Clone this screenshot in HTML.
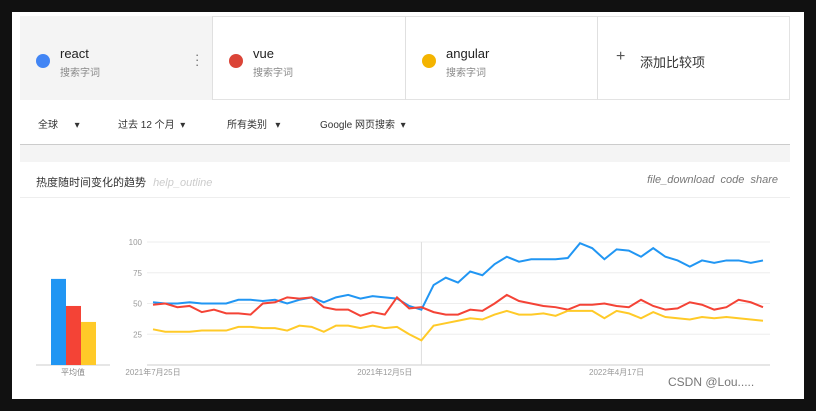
<!DOCTYPE html>
<html><head><meta charset="utf-8">
<style>
body{margin:0;width:816px;height:411px;background:#111;overflow:hidden;font-family:"Liberation Sans","Noto Sans CJK SC",sans-serif;}
#frame{position:absolute;left:12px;top:12px;width:792px;height:387px;background:#fff;}
.cell{position:absolute;top:4px;height:84px;border-right:1px solid #e0e0e0;}
.dot{position:absolute;left:16px;top:38px;width:14px;height:14px;border-radius:50%;}
.term{position:absolute;left:40px;top:30px;font-size:13px;color:#222;}
.sub{position:absolute;left:40px;top:48px;font-size:10px;color:#888;}
.filt{position:absolute;top:116px;font-size:10px;color:#333;}
</style></head><body>
<div id="frame">
 <div style="position:absolute;left:8px;top:4px;width:770px;height:84px;border:1px solid #e3e3e3;box-sizing:border-box;"></div>
 <div class="cell" style="left:8px;width:192px;background:#f4f4f4;">
  <div class="dot" style="background:#4285f4"></div><div class="term">react</div><div class="sub">搜索字词</div>
  <div style="position:absolute;left:175px;top:36px;font-size:13px;color:#666;line-height:5px;">·<br>·<br>·</div>
 </div>
 <div class="cell" style="left:201px;width:192px;">
  <div class="dot" style="background:#db4437"></div><div class="term">vue</div><div class="sub">搜索字词</div></div>
 <div class="cell" style="left:394px;width:191px;">
  <div class="dot" style="background:#f4b400"></div><div class="term">angular</div><div class="sub">搜索字词</div></div>
 <div class="cell" style="left:586px;width:190px;border:none;">
  <div style="position:absolute;left:18px;top:32px;font-size:16px;color:#555;">+</div>
  <div style="position:absolute;left:42px;top:36px;font-size:13px;color:#333;">添加比较项</div></div>
 <div class="filt" style="left:26px;top:104px;">全球 &nbsp; &nbsp; &nbsp;▾</div>
 <div class="filt" style="left:106px;top:104px;">过去 12 个月 &nbsp;▾</div>
 <div class="filt" style="left:215px;top:104px;">所有类别 &nbsp; ▾</div>
 <div class="filt" style="left:308px;top:104px;">Google 网页搜索 &nbsp;▾</div>
 <div style="position:absolute;left:8px;top:132px;width:770px;height:17px;background:#f4f4f4;border-top:1px solid #ccc;"></div>
 <div style="position:absolute;left:24px;top:162px;font-size:11px;color:#333;">热度随时间变化的趋势 <i style="color:#ccc;font-family:'Liberation Sans';margin-left:4px">help_outline</i></div>
 <div style="position:absolute;right:26px;top:162px;font-size:11px;color:#777;font-style:italic;"><span>file_download</span> &nbsp;<span>code</span> &nbsp;<span>share</span></div>
 <div style="position:absolute;left:8px;top:185px;width:770px;height:1px;background:#eee;"></div>
</div>
<svg id="chart" width="816" height="411" style="position:absolute;left:0;top:0"></svg>
<div style="position:absolute;left:668px;top:375px;font-size:12px;color:#777;">CSDN @Lou.....</div>
<script>
const react=[51,50,50,51,50,50,50,53,53,52,53,50,53,55,51,55,57,54,56,55,54,48,45,65,71,67,76,73,82,88,84,86,86,86,87,99,95,86,94,93,88,95,88,85,80,85,83,85,85,83,85];
const vue=[49,50,47,48,43,45,42,42,41,50,51,55,54,55,47,45,45,40,43,41,55,46,47,43,41,41,45,44,50,57,52,50,48,47,45,49,49,50,48,47,53,48,45,46,51,49,45,47,53,51,47];
const angular=[29,27,27,27,28,28,28,31,31,30,30,28,32,31,27,32,32,30,32,30,31,25,20,32,34,36,38,37,41,44,41,41,42,40,44,44,44,38,44,42,38,43,39,38,37,39,38,39,38,37,36];
const averages=[70,48,35];
const yTicks=[25,50,75,100];
const xLabels=[[0,"2021年7月25日"],[19,"2021年12月5日"],[38,"2022年4月17日"]];
const colors=["#2196f3","#f44336","#ffca28"];
const svg=document.getElementById('chart');const NS="http://www.w3.org/2000/svg";
const x0=153,x1=763,y0=365,yPer=1.23;
const X=i=>x0+i*(x1-x0)/(react.length-1);const Y=v=>y0-v*yPer;
function mk(t,a){const e=document.createElementNS(NS,t);for(const k in a)e.setAttribute(k,a[k]);svg.appendChild(e);return e;}
yTicks.forEach(t=>{const l=mk('line',{x1:147,x2:770,y1:Y(t),y2:Y(t),stroke:'#eee'});


const tx=mk('text',{x:142,y:Y(t)+3,'text-anchor':'end','font-size':8,fill:'#999','font-family':'Liberation Sans'});tx.textContent=t;

});
const ax=mk('line',{x1:147,x2:770,y1:y0,y2:y0,stroke:'#ccc'});


const vl=mk('line',{x1:X(22),x2:X(22),y1:Y(100),y2:y0,stroke:'#ddd'});


xLabels.forEach(([i,s])=>{const t=mk('text',{x:X(i),y:y0+10,'text-anchor':'middle','font-size':8,fill:'#999','font-family':'Liberation Sans, Noto Sans CJK SC, sans-serif'});t.textContent=s;

});
[react,vue,angular].forEach((s,k)=>{const p=mk('polyline',{points:s.map((v,i)=>X(i)+','+Y(v)).join(' '),fill:'none',stroke:colors[k],'stroke-width':2});

});
const bax=mk('line',{x1:36,x2:110,y1:y0,y2:y0,stroke:'#ccc'});


averages.forEach((v,k)=>{const r=mk('rect',{x:51+k*15,y:Y(v),width:15,height:v*yPer,fill:colors[k]});

});
const al=mk('text',{x:73,y:y0+10,'text-anchor':'middle','font-size':8,fill:'#888','font-family':'Liberation Sans, Noto Sans CJK SC, sans-serif'});al.textContent='平均值';


</script>
</body></html>
